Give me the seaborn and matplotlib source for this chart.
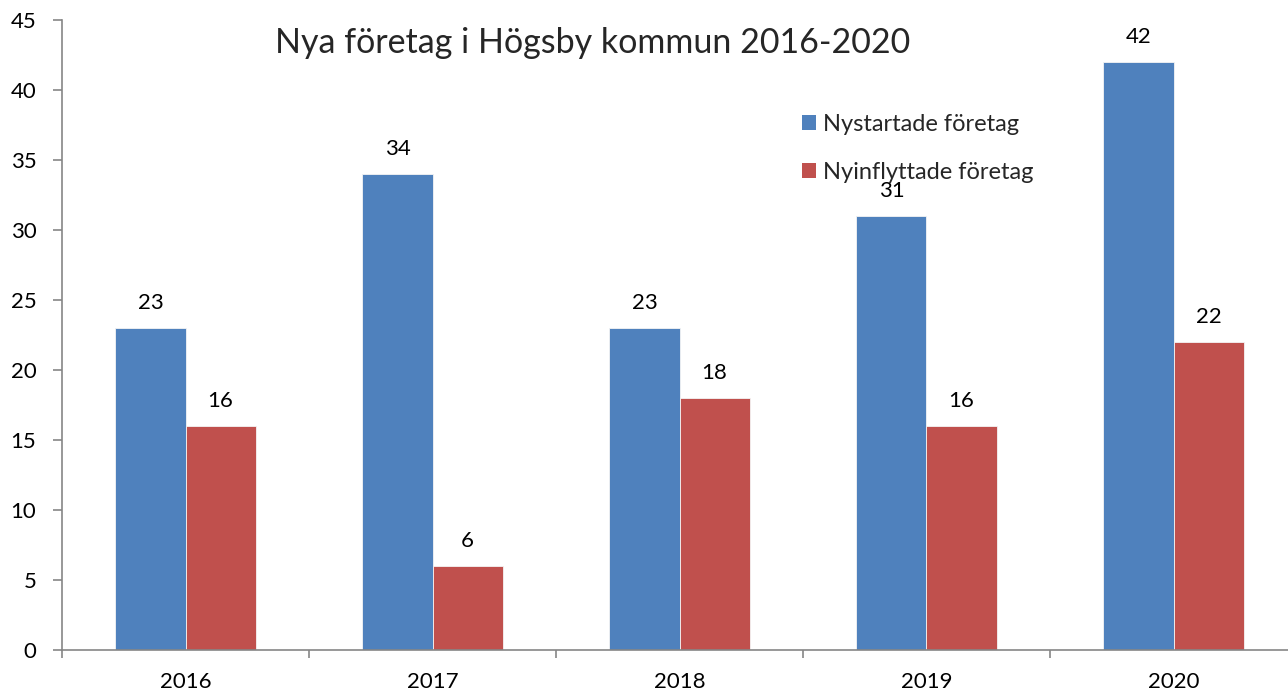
import matplotlib.pyplot as plt
import pandas as pd
import seaborn as sns
from matplotlib.patches import Patch

years = ["2016", "2017", "2018", "2019", "2020"]
nystartade = [23, 34, 23, 31, 42]
nyinflyttade = [16, 6, 18, 16, 22]
series = ["Nystartade företag", "Nyinflyttade företag"]
colors = ["#4F81BD", "#C0504D"]

df = pd.DataFrame({
    "year": years * 2,
    "value": nystartade + nyinflyttade,
    "series": [series[0]] * len(years) + [series[1]] * len(years),
})

sns.set_theme(style="white")
plt.rcParams["font.family"] = ["Lato", "DejaVu Sans"]

fig = plt.figure(figsize=(12.88, 6.95), dpi=100)
ax = fig.add_axes([62 / 1288, 45 / 695, 1235 / 1288, 630 / 695])

sns.barplot(data=df, x="year", y="value", hue="series", order=years,
            hue_order=series, palette=colors, saturation=1, width=0.567, gap=0,
            edgecolor="#f4f4f4", linewidth=0.6, legend=False, ax=ax)

for container in ax.containers:
    ax.bar_label(container, fmt="%d", padding=11, fontsize=16, color="black")

ax.set_xlim(-0.5, 4.5)
ax.set_ylim(0, 45)
ax.set_yticks(range(0, 46, 5))
ax.set_xticks([i - 0.5 for i in range(6)], minor=True)
ax.set_xlabel("")
ax.set_ylabel("")

axis_grey = "#868686"
for side in ["top", "right"]:
    ax.spines[side].set_visible(False)
for side in ["left", "bottom"]:
    ax.spines[side].set_color(axis_grey)
    ax.spines[side].set_linewidth(1.2)

ax.tick_params(axis="y", which="major", direction="out", length=6.5, width=1.2,
               color=axis_grey, labelsize=16, labelcolor="black", pad=12, left=True)
ax.tick_params(axis="x", which="major", length=0, labelsize=16, labelcolor="black", pad=16)
ax.tick_params(axis="x", which="minor", direction="out", length=6, width=1.2,
               color=axis_grey, bottom=True)

fig.text(593 / 1288, 1 - 43 / 695, "Nya företag i Högsby kommun 2016-2020",
         ha="center", va="center", fontsize=24.5)

handles = [Patch(facecolor=c, edgecolor="none") for c in colors]
fig.legend(handles, series, loc="upper left", bbox_to_anchor=(802 / 1288, 1 - 114 / 695),
           frameon=False, fontsize=17, handlelength=0.6, handleheight=0.6,
           handletextpad=0.3, labelspacing=1.15, borderpad=0, borderaxespad=0)

fig.savefig("out.png", dpi=100)
